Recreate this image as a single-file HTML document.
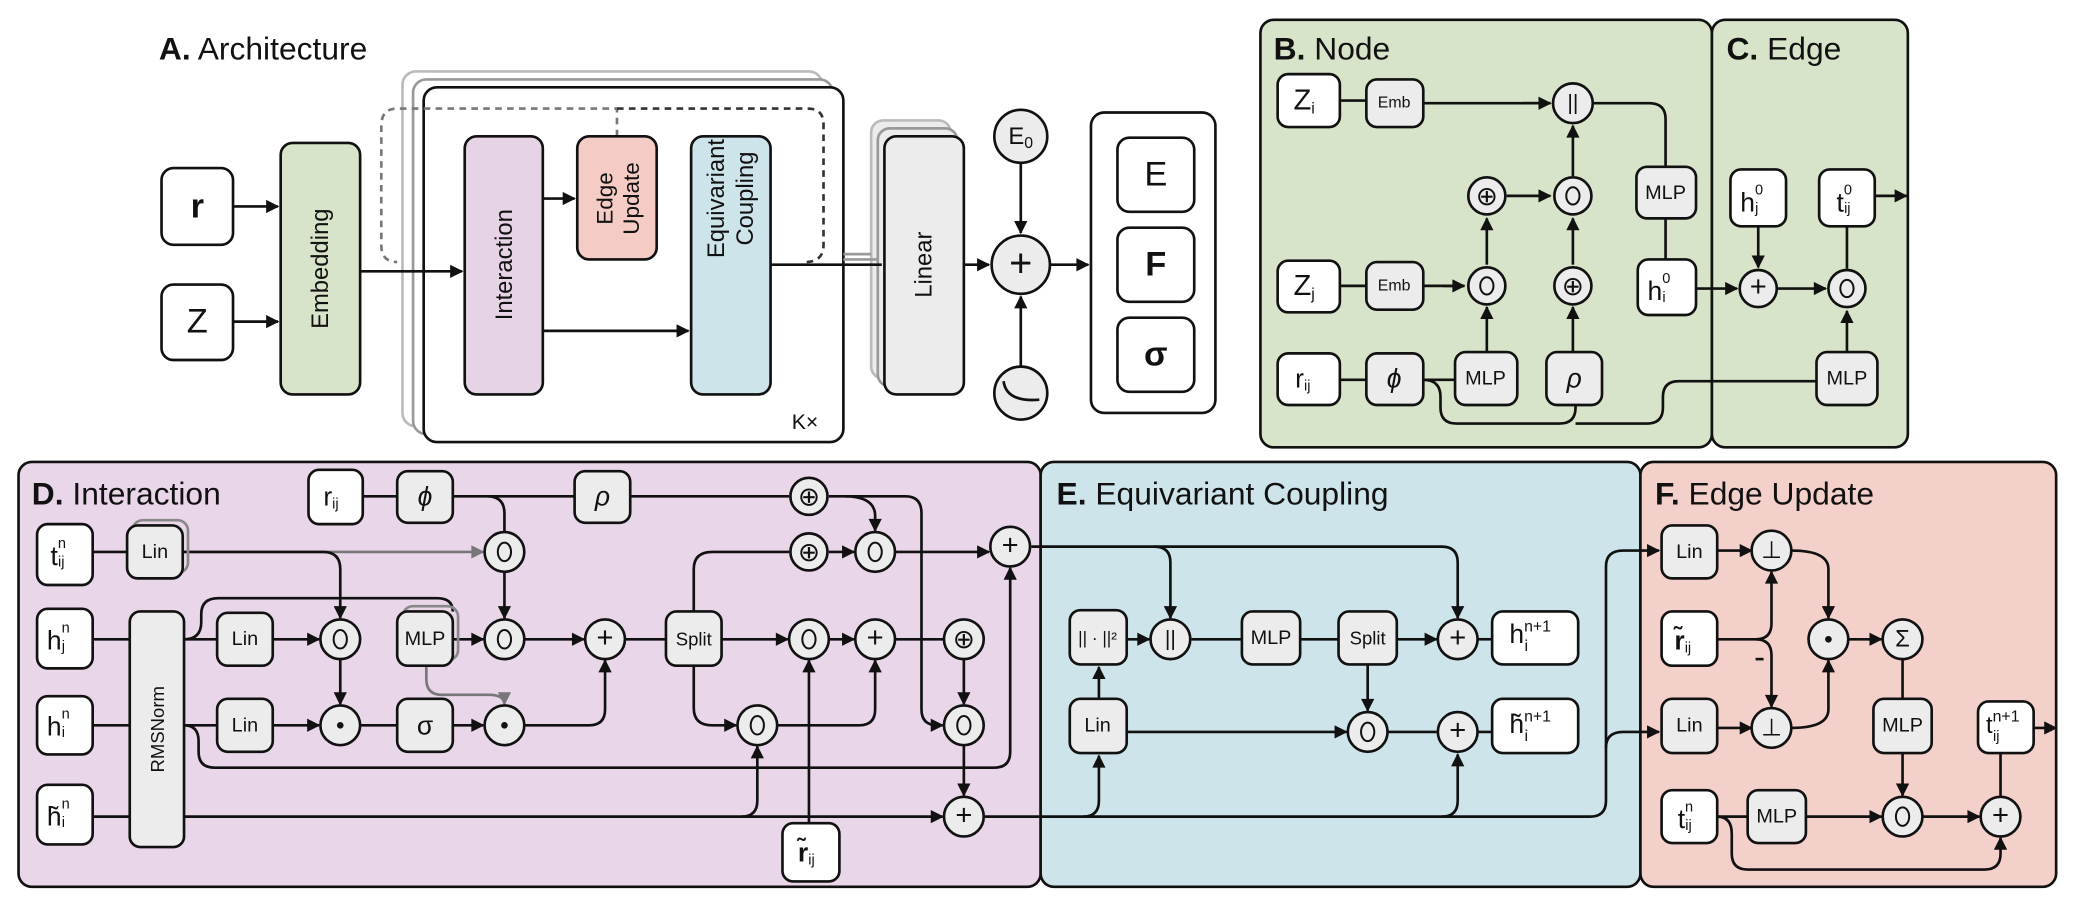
<!DOCTYPE html>
<html><head><meta charset="utf-8"><style>
html,body{margin:0;padding:0;background:#fff}
svg{display:block}
text{font-family:"Liberation Sans",sans-serif;fill:#111}
.n{fill:#ececec;stroke:#111;stroke-width:2}
.w{fill:#fff;stroke:#111;stroke-width:2}
.l{fill:none;stroke:#111;stroke-width:2}
.g{fill:none;stroke:#777;stroke-width:2}
.c{fill:#ececec;stroke:#111;stroke-width:2}
.t{font-size:15px;text-anchor:middle;dominant-baseline:central}
.s{font-size:20px;text-anchor:middle;dominant-baseline:central}
.h{font-size:24px}
</style></head><body>
<svg width="2076" height="900" viewBox="0 0 1568 680" preserveAspectRatio="none" xmlns="http://www.w3.org/2000/svg">
<defs>
<marker id="a" viewBox="0 0 10 10" refX="9" refY="5" markerWidth="11" markerHeight="10" markerUnits="userSpaceOnUse" orient="auto"><path d="M0,0L10,5L0,10z" fill="#111"/></marker>
<marker id="ag" viewBox="0 0 10 10" refX="9" refY="5" markerWidth="11" markerHeight="10" markerUnits="userSpaceOnUse" orient="auto"><path d="M0,0L10,5L0,10z" fill="#777"/></marker>
</defs>

<!-- Panels -->
<rect x="952" y="15" width="341" height="323" rx="10" fill="#d8e4c9" stroke="#111" stroke-width="2"/>
<rect x="1293" y="15" width="148" height="323" rx="10" fill="#d8e4c9" stroke="#111" stroke-width="2"/>
<rect x="14" y="349" width="772" height="321" rx="10" fill="#e9d6e8" stroke="#111" stroke-width="2"/>
<rect x="786" y="349" width="453" height="321" rx="10" fill="#cde4ea" stroke="#111" stroke-width="2"/>
<rect x="1239" y="349" width="314" height="321" rx="10" fill="#f4d0cb" stroke="#111" stroke-width="2"/>

<!-- A. Architecture -->
<text x="120" y="45" class="h"><tspan font-weight="bold">A.</tspan> Architecture</text>
<rect x="304" y="54" width="317" height="268" rx="10" fill="#fff" stroke="#bbb" stroke-width="2"/>
<rect x="312" y="60" width="317" height="268" rx="10" fill="#fff" stroke="#999" stroke-width="2"/>
<rect x="320" y="66" width="317" height="268" rx="10" class="w"/>
<text x="598" y="324" style="font-size:16px">K×</text>
<path d="M466 103V82H300Q288 82 288 95V185Q288 198 300 198" class="g" stroke-dasharray="5,4" stroke="#999"/>
<path d="M466 82H610Q622 82 622 94V185Q622 198 608 198" fill="none" stroke="#333" stroke-width="2" stroke-dasharray="5,4"/>
<rect x="122" y="127" width="54" height="58" rx="9" class="w"/><text x="149" y="156" class="s" font-weight="bold" style="font-size:26px">r</text>
<rect x="122" y="215" width="54" height="57" rx="9" class="w"/><text x="149" y="243" class="s" style="font-size:26px">Z</text>
<rect x="212" y="108" width="60" height="190" rx="9" fill="#d8e4c9" stroke="#111" stroke-width="2"/>
<text transform="translate(242 203) rotate(-90)" class="s" style="font-size:18px">Embedding</text>
<rect x="351" y="103" width="59" height="195" rx="9" fill="#e6d4e6" stroke="#111" stroke-width="2"/>
<text transform="translate(381 200) rotate(-90)" class="s" style="font-size:18px">Interaction</text>
<rect x="436" y="103" width="60" height="93" rx="9" fill="#f4cbc5" stroke="#111" stroke-width="2"/>
<text transform="translate(457 150) rotate(-90)" class="s" style="font-size:17px">Edge</text>
<text transform="translate(477 150) rotate(-90)" class="s" style="font-size:17px">Update</text>
<rect x="522" y="103" width="60" height="195" rx="9" fill="#cde4ea" stroke="#111" stroke-width="2"/>
<text transform="translate(541 150) rotate(-90)" class="s" style="font-size:18px">Equivariant</text>
<text transform="translate(563 150) rotate(-90)" class="s" style="font-size:18px">Coupling</text>
<rect x="658" y="91" width="60" height="195" rx="9" fill="#ececec" stroke="#bbb" stroke-width="2"/>
<rect x="663" y="97" width="60" height="195" rx="9" fill="#ececec" stroke="#999" stroke-width="2"/>
<rect x="668" y="103" width="60" height="195" rx="9" class="n"/>
<text transform="translate(698 200) rotate(-90)" class="s" style="font-size:18px">Linear</text>
<path d="M176 156H210" class="l" marker-end="url(#a)"/>
<path d="M176 243H210" class="l" marker-end="url(#a)"/>
<path d="M272 205H349" class="l" marker-end="url(#a)"/>
<path d="M410 150H434" class="l" marker-end="url(#a)"/>
<path d="M410 250H520" class="l" marker-end="url(#a)"/>
<path d="M637 192H658M637 196H663" stroke="#999" stroke-width="2"/>
<path d="M582 200H666" class="l"/>
<path d="M728 200H747" class="l" marker-end="url(#a)"/>
<circle cx="771" cy="103" r="20" class="c"/><text x="771" y="103" class="s" style="font-size:18px">E<tspan font-size="12" dy="5">0</tspan></text>
<path d="M771 123V176" class="l" marker-end="url(#a)"/>
<circle cx="771" cy="200" r="22" class="c"/><text x="771" y="199" class="s" style="font-size:30px">+</text>
<circle cx="771" cy="297" r="20" class="c"/><path d="M758 288Q760 304 785 302" class="l"/>
<path d="M771 277V224" class="l" marker-end="url(#a)"/>
<path d="M793 200H822" class="l" marker-end="url(#a)"/>
<rect x="824" y="85" width="94" height="227" rx="10" class="w"/>
<rect x="844" y="104" width="58" height="56" rx="9" class="w"/><text x="873" y="132" class="s" style="font-size:26px">E</text>
<rect x="844" y="172" width="58" height="56" rx="9" class="w"/><text x="873" y="200" class="s" style="font-size:26px;font-weight:bold">F</text>
<rect x="844" y="240" width="58" height="56" rx="9" class="w"/><text x="873" y="268" class="s" style="font-size:26px;font-weight:bold">σ</text>

<!-- B. Node -->
<text x="962" y="45" class="h"><tspan font-weight="bold">B.</tspan> Node</text>
<text x="1304" y="45" class="h"><tspan font-weight="bold">C.</tspan> Edge</text>
<path d="M1012 76H1032M1075 78H1171" class="l"/><path d="M1150 78H1171" class="l" marker-end="url(#a)"/>
<path d="M1188 133V95" class="l" marker-end="url(#a)"/>
<path d="M1258 126V90Q1258 78 1246 78H1203" class="l"/>
<path d="M1138 148H1171" class="l" marker-end="url(#a)"/>
<path d="M1123 200V165" class="l" marker-end="url(#a)"/>
<path d="M1012 216H1032M1075 216H1106" class="l"/><path d="M1090 216H1106" class="l" marker-end="url(#a)"/>
<path d="M1188 200V165" class="l" marker-end="url(#a)"/>
<path d="M1123 266V232" class="l" marker-end="url(#a)"/>
<path d="M1188 266V232" class="l" marker-end="url(#a)"/>
<path d="M1012 287H1032M1075 287H1099" class="l"/>
<path d="M1075 287Q1088 287 1088 300V308Q1088 320 1100 320H1178Q1190 320 1190 308V306M1190 320H1244Q1256 320 1256 308V300Q1256 288 1268 288H1372" class="l"/>
<path d="M1258 196V165" class="l"/>
<path d="M1281 218H1312" class="l" marker-end="url(#a)"/>
<rect x="965" y="56" width="47" height="40" rx="8" class="w"/><text x="985" y="76" class="s" style="font-size:22px">Z<tspan font-size="12" dy="6">i</tspan></text>
<rect x="1032" y="60" width="43" height="36" rx="8" class="n"/><text x="1053" y="78" class="t" style="font-size:12px">Emb</text>
<circle cx="1188" cy="78" r="15" class="c"/><text x="1188" y="78" class="s" style="font-size:16px">||</text>
<rect x="1236" y="126" width="45" height="39" rx="8" class="n"/><text x="1258" y="146" class="t">MLP</text>
<circle cx="1123" cy="148" r="14" class="c"/><text x="1123" y="148" class="s">⊕</text>
<circle cx="1188" cy="148" r="14" class="c"/><ellipse cx="1188" cy="148" rx="5" ry="6.5" fill="none" stroke="#111" stroke-width="1.5"/>
<rect x="965" y="197" width="47" height="39" rx="8" class="w"/><text x="985" y="216" class="s" style="font-size:22px">Z<tspan font-size="12" dy="6">j</tspan></text>
<rect x="1032" y="198" width="43" height="36" rx="8" class="n"/><text x="1053" y="216" class="t" style="font-size:12px">Emb</text>
<circle cx="1123" cy="216" r="14" class="c"/><ellipse cx="1123" cy="216" rx="5" ry="6.5" fill="none" stroke="#111" stroke-width="1.5"/>
<circle cx="1188" cy="216" r="14" class="c"/><text x="1188" y="216" class="s">⊕</text>
<rect x="1237" y="196" width="44" height="42" rx="8" class="w"/><text x="1253" y="220" class="s">h<tspan font-size="11" dy="-9">0</tspan><tspan font-size="11" dx="-6" dy="14">i</tspan></text>
<rect x="965" y="267" width="47" height="39" rx="8" class="w"/><text x="984" y="286" class="s">r<tspan font-size="11" dy="6">ij</tspan></text>
<rect x="1032" y="267" width="43" height="39" rx="8" class="n"/><text x="1053" y="286" class="s" font-style="italic">ϕ</text>
<rect x="1099" y="266" width="47" height="40" rx="8" class="n"/><text x="1122" y="286" class="t">MLP</text>
<rect x="1168" y="266" width="42" height="40" rx="8" class="n"/><text x="1189" y="286" class="s" font-style="italic">ρ</text>
<!-- C -->
<path d="M1328 171V202" class="l" marker-end="url(#a)"/>
<path d="M1342 218H1379" class="l" marker-end="url(#a)"/>
<path d="M1395 266V235" class="l" marker-end="url(#a)"/>
<path d="M1395 203V171" class="l"/>
<path d="M1416 148H1440" class="l" marker-end="url(#a)"/>
<rect x="1307" y="128" width="42" height="43" rx="8" class="w"/><text x="1323" y="153" class="s">h<tspan font-size="11" dy="-9">0</tspan><tspan font-size="11" dx="-6" dy="14">j</tspan></text>
<rect x="1374" y="128" width="42" height="43" rx="8" class="w"/><text x="1393" y="153" class="s">t<tspan font-size="11" dy="-9">0</tspan><tspan font-size="11" dx="-6" dy="14">ij</tspan></text>
<circle cx="1328" cy="218" r="14" class="c"/><text x="1328" y="217" class="s" style="font-size:22px">+</text>
<circle cx="1395" cy="218" r="14" class="c"/><ellipse cx="1395" cy="218" rx="5" ry="6.5" fill="none" stroke="#111" stroke-width="1.5"/>
<rect x="1372" y="266" width="46" height="40" rx="8" class="n"/><text x="1395" y="286" class="t">MLP</text>

<!-- D. Interaction -->
<text x="24" y="381" class="h"><tspan font-weight="bold">D.</tspan> Interaction</text>
<path d="M274 375H300M342 375H434M476 375H596" class="l"/>
<path d="M368 375Q381 375 381 388V402" class="l"/>
<path d="M626 375H684Q696 375 696 388V536Q696 548 708 548H712" class="l" marker-end="url(#a)"/>
<path d="M638 375Q661 375 661 390V401" class="l" marker-end="url(#a)"/>
<path d="M70 417H96" class="l"/>
<path d="M138 417H365" class="g" marker-end="url(#ag)"/>
<path d="M138 417H244Q257 417 257 430V467" class="l" marker-end="url(#a)"/>
<path d="M70 483H98M139 483H164" class="l"/>
<path d="M139 483Q152 483 152 470V464Q152 452 165 452H330Q342 452 342 462" class="l"/>
<path d="M206 483H241" class="l" marker-end="url(#a)"/>
<path d="M257 498V532" class="l" marker-end="url(#a)"/>
<path d="M342 483H365" class="l" marker-end="url(#a)"/>
<path d="M381 432V467" class="l" marker-end="url(#a)"/>
<path d="M396 483H441" class="l" marker-end="url(#a)"/>
<path d="M472 483H503" class="l"/>
<path d="M545 483H595" class="l" marker-end="url(#a)"/>
<path d="M626 483H645" class="l" marker-end="url(#a)"/>
<path d="M676 483H713" class="l"/>
<path d="M728 498V532" class="l" marker-end="url(#a)"/>
<path d="M728 563V601" class="l" marker-end="url(#a)"/>
<path d="M524 462V430Q524 417 538 417H596" class="l"/>
<path d="M626 417H645" class="l" marker-end="url(#a)"/>
<path d="M676 417H747" class="l" marker-end="url(#a)"/>
<path d="M524 503V535Q524 548 538 548H556" class="l" marker-end="url(#a)"/>
<path d="M587 548H649Q661 548 661 536V499" class="l" marker-end="url(#a)"/>
<path d="M611 622V499" class="l" marker-end="url(#a)"/>
<path d="M322 503V513Q322 525 334 525H369Q381 525 381 532" class="g" marker-end="url(#ag)"/>
<path d="M70 548H98M139 548H164" class="l"/>
<path d="M206 548H241" class="l" marker-end="url(#a)"/>
<path d="M272 548H300" class="l"/>
<path d="M342 548H365" class="l" marker-end="url(#a)"/>
<path d="M396 548H445Q457 548 457 536V499" class="l" marker-end="url(#a)"/>
<path d="M139 548Q150 548 150 560V568Q150 580 162 580H751Q763 580 763 568V429" class="l" marker-end="url(#a)"/>
<path d="M70 617H98" class="l"/>
<path d="M139 617H712" class="l" marker-end="url(#a)"/>
<path d="M560 617Q572 617 572 605V564" class="l" marker-end="url(#a)"/>
<path d="M744 617H1201Q1213 617 1213 605V428Q1213 416 1226 416H1253" class="l" marker-end="url(#a)"/>
<path d="M1213 565Q1213 553 1226 553H1253" class="l" marker-end="url(#a)"/>
<path d="M779 413H1089Q1101 413 1101 425V467" class="l" marker-end="url(#a)"/>
<path d="M872 413Q884 413 884 425V467" class="l" marker-end="url(#a)"/>

<rect x="233" y="355" width="41" height="41" rx="8" class="w"/><text x="250" y="375" class="s">r<tspan font-size="11" dy="6">ij</tspan></text>
<rect x="300" y="356" width="42" height="39" rx="8" class="n"/><text x="321" y="375" class="s" font-style="italic">ϕ</text>
<rect x="434" y="356" width="42" height="39" rx="8" class="n"/><text x="455" y="375" class="s" font-style="italic">ρ</text>
<circle cx="611" cy="375" r="14" class="c"/><text x="611" y="375" class="s">⊕</text>
<rect x="28" y="396" width="42" height="46" rx="8" class="w"/><text x="44" y="420" class="s">t<tspan font-size="11" dy="-9">n</tspan><tspan font-size="11" dx="-6" dy="14">ij</tspan></text>
<rect x="100" y="393" width="42" height="40" rx="8" fill="none" stroke="#888" stroke-width="2"/>
<rect x="96" y="397" width="42" height="40" rx="8" class="n"/><text x="117" y="417" class="t">Lin</text>
<circle cx="381" cy="417" r="15" class="c"/><ellipse cx="381" cy="417" rx="5" ry="7" fill="none" stroke="#111" stroke-width="1.5"/>
<circle cx="611" cy="417" r="14" class="c"/><text x="611" y="417" class="s">⊕</text>
<circle cx="661" cy="417" r="15" class="c"/><ellipse cx="661" cy="417" rx="5" ry="7" fill="none" stroke="#111" stroke-width="1.5"/>
<circle cx="763" cy="413" r="15" class="c"/><text x="763" y="412" class="s" style="font-size:22px">+</text>
<rect x="28" y="460" width="42" height="45" rx="8" class="w"/><text x="44" y="484" class="s">h<tspan font-size="11" dy="-9">n</tspan><tspan font-size="11" dx="-6" dy="14">j</tspan></text>
<rect x="98" y="462" width="41" height="178" rx="8" class="n"/>
<text transform="translate(119 551) rotate(-90)" class="t" style="font-size:14px">RMSNorm</text>
<rect x="164" y="463" width="42" height="40" rx="8" class="n"/><text x="185" y="483" class="t">Lin</text>
<circle cx="257" cy="483" r="15" class="c"/><ellipse cx="257" cy="483" rx="5" ry="7" fill="none" stroke="#111" stroke-width="1.5"/>
<rect x="304" y="458" width="42" height="41" rx="8" fill="none" stroke="#888" stroke-width="2"/>
<rect x="300" y="462" width="42" height="41" rx="8" class="n"/><text x="321" y="483" class="t">MLP</text>
<circle cx="381" cy="483" r="15" class="c"/><ellipse cx="381" cy="483" rx="5" ry="7" fill="none" stroke="#111" stroke-width="1.5"/>
<circle cx="457" cy="483" r="15" class="c"/><text x="457" y="482" class="s" style="font-size:22px">+</text>
<rect x="503" y="462" width="42" height="41" rx="8" class="n"/><text x="524" y="483" class="t" style="font-size:14px">Split</text>
<circle cx="611" cy="483" r="15" class="c"/><ellipse cx="611" cy="483" rx="5" ry="7" fill="none" stroke="#111" stroke-width="1.5"/>
<circle cx="661" cy="483" r="15" class="c"/><text x="661" y="482" class="s" style="font-size:22px">+</text>
<circle cx="728" cy="483" r="15" class="c"/><text x="728" y="483" class="s">⊕</text>
<rect x="28" y="526" width="42" height="44" rx="8" class="w"/><text x="44" y="549" class="s">h<tspan font-size="11" dy="-9">n</tspan><tspan font-size="11" dx="-6" dy="14">i</tspan></text>
<rect x="164" y="528" width="42" height="40" rx="8" class="n"/><text x="185" y="548" class="t">Lin</text>
<circle cx="257" cy="548" r="15" class="c"/><circle cx="257" cy="548" r="2.5" fill="#111"/>
<rect x="300" y="528" width="42" height="40" rx="8" class="n"/><text x="321" y="548" class="s">σ</text>
<circle cx="381" cy="548" r="15" class="c"/><circle cx="381" cy="548" r="2.5" fill="#111"/>
<circle cx="572" cy="548" r="15" class="c"/><ellipse cx="572" cy="548" rx="5" ry="7" fill="none" stroke="#111" stroke-width="1.5"/>
<circle cx="728" cy="548" r="15" class="c"/><ellipse cx="728" cy="548" rx="5" ry="7" fill="none" stroke="#111" stroke-width="1.5"/>
<rect x="28" y="593" width="42" height="45" rx="8" class="w"/><text x="44" y="617" class="s">h̃<tspan font-size="11" dy="-9">n</tspan><tspan font-size="11" dx="-6" dy="14">i</tspan></text>
<circle cx="728" cy="617" r="15" class="c"/><text x="728" y="616" class="s" style="font-size:22px">+</text>
<rect x="591" y="622" width="43" height="44" rx="8" class="w"/><text x="609" y="644" class="s" font-weight="bold">r̃<tspan font-size="11" font-weight="normal" dy="6">ij</tspan></text>

<!-- E. Equivariant Coupling -->
<text x="798" y="381" class="h"><tspan font-weight="bold">E.</tspan> Equivariant Coupling</text>
<path d="M830 528V504" class="l" marker-end="url(#a)"/>
<path d="M851 483H868" class="l" marker-end="url(#a)"/>
<path d="M900 483H938M982 483H1011" class="l"/>
<path d="M1055 483H1085" class="l" marker-end="url(#a)"/>
<path d="M1116 483H1127" class="l"/>
<path d="M1033 502V537" class="l" marker-end="url(#a)"/>
<path d="M851 553H1017" class="l" marker-end="url(#a)"/>
<path d="M1048 553H1085M1116 553H1127" class="l"/>
<path d="M818 617Q830 617 830 605V571" class="l" marker-end="url(#a)"/>
<path d="M1089 617Q1101 617 1101 605V570" class="l" marker-end="url(#a)"/>
<rect x="808" y="461" width="43" height="41" rx="8" class="n"/><text x="829" y="482" class="t" style="font-size:13px">|| · ||²</text>
<circle cx="884" cy="483" r="15" class="c"/><text x="884" y="483" class="s" style="font-size:16px">||</text>
<rect x="938" y="462" width="44" height="40" rx="8" class="n"/><text x="960" y="482" class="t">MLP</text>
<rect x="1011" y="462" width="44" height="40" rx="8" class="n"/><text x="1033" y="482" class="t" style="font-size:14px">Split</text>
<circle cx="1101" cy="483" r="15" class="c"/><text x="1101" y="482" class="s" style="font-size:22px">+</text>
<rect x="1127" y="462" width="65" height="40" rx="8" class="w"/><text x="1140" y="486" style="font-size:20px">h<tspan font-size="12" dy="-9">n+1</tspan><tspan font-size="12" dx="-20" dy="15">i</tspan></text>
<rect x="808" y="528" width="43" height="41" rx="8" class="n"/><text x="829" y="548" class="t">Lin</text>
<circle cx="1033" cy="553" r="15" class="c"/><ellipse cx="1033" cy="553" rx="5" ry="7" fill="none" stroke="#111" stroke-width="1.5"/>
<circle cx="1101" cy="553" r="15" class="c"/><text x="1101" y="552" class="s" style="font-size:22px">+</text>
<rect x="1127" y="528" width="65" height="41" rx="8" class="w"/><text x="1140" y="554" style="font-size:20px">h̃<tspan font-size="12" dy="-9">n+1</tspan><tspan font-size="12" dx="-20" dy="15">i</tspan></text>

<!-- F. Edge Update -->
<text x="1250" y="381" class="h"><tspan font-weight="bold">F.</tspan> Edge Update</text>
<path d="M1297 416H1323" class="l" marker-end="url(#a)"/>
<path d="M1353 416Q1381 416 1381 430V467" class="l" marker-end="url(#a)"/>
<path d="M1297 550H1323" class="l" marker-end="url(#a)"/>
<path d="M1353 550Q1381 550 1381 536V499" class="l" marker-end="url(#a)"/>
<path d="M1297 483H1326Q1338 483 1338 471V432" class="l" marker-end="url(#a)"/>
<path d="M1326 483Q1338 483 1338 495V534" class="l" marker-end="url(#a)"/>
<path d="M1326 498H1332" stroke="#111" stroke-width="2"/>
<path d="M1396 483H1421" class="l" marker-end="url(#a)"/>
<path d="M1437 498V528" class="l"/>
<path d="M1437 569V601" class="l" marker-end="url(#a)"/>
<path d="M1297 617H1320" class="l"/>
<path d="M1364 617H1421" class="l" marker-end="url(#a)"/>
<path d="M1452 617H1495" class="l" marker-end="url(#a)"/>
<path d="M1297 617Q1308 617 1308 630V645Q1308 657 1320 657H1499Q1511 657 1511 645V633" class="l" marker-end="url(#a)"/>
<path d="M1511 602V569" class="l"/>
<path d="M1536 550H1553" class="l" marker-end="url(#a)"/>
<rect x="1255" y="397" width="42" height="40" rx="8" class="n"/><text x="1276" y="417" class="t">Lin</text>
<circle cx="1338" cy="416" r="15" class="c"/><text x="1338" y="416" class="s" style="font-size:18px">⊥</text>
<rect x="1255" y="462" width="42" height="41" rx="8" class="w"/><text x="1271" y="484" class="s" font-weight="bold">r̃<tspan font-size="11" font-weight="normal" dy="6">ij</tspan></text>
<circle cx="1381" cy="483" r="15" class="c"/><circle cx="1381" cy="483" r="2.5" fill="#111"/>
<circle cx="1437" cy="483" r="15" class="c"/><text x="1437" y="483" class="s" style="font-size:18px">Σ</text>
<rect x="1255" y="528" width="42" height="41" rx="8" class="n"/><text x="1276" y="548" class="t">Lin</text>
<circle cx="1338" cy="550" r="15" class="c"/><text x="1338" y="550" class="s" style="font-size:18px">⊥</text>
<rect x="1415" y="528" width="44" height="41" rx="8" class="n"/><text x="1437" y="548" class="t">MLP</text>
<rect x="1494" y="530" width="42" height="39" rx="8" class="w"/><text x="1500" y="554" style="font-size:18px">t<tspan font-size="12" dy="-9">n+1</tspan><tspan font-size="11" dx="-20" dy="15">ij</tspan></text>
<rect x="1255" y="597" width="42" height="40" rx="8" class="w"/><text x="1273" y="619" class="s">t<tspan font-size="11" dy="-9">n</tspan><tspan font-size="11" dx="-6" dy="14">ij</tspan></text>
<rect x="1320" y="597" width="44" height="40" rx="8" class="n"/><text x="1342" y="617" class="t">MLP</text>
<circle cx="1437" cy="617" r="15" class="c"/><ellipse cx="1437" cy="617" rx="5" ry="7" fill="none" stroke="#111" stroke-width="1.5"/>
<circle cx="1511" cy="617" r="15" class="c"/><text x="1511" y="616" class="s" style="font-size:22px">+</text>
</svg>
</body></html>
